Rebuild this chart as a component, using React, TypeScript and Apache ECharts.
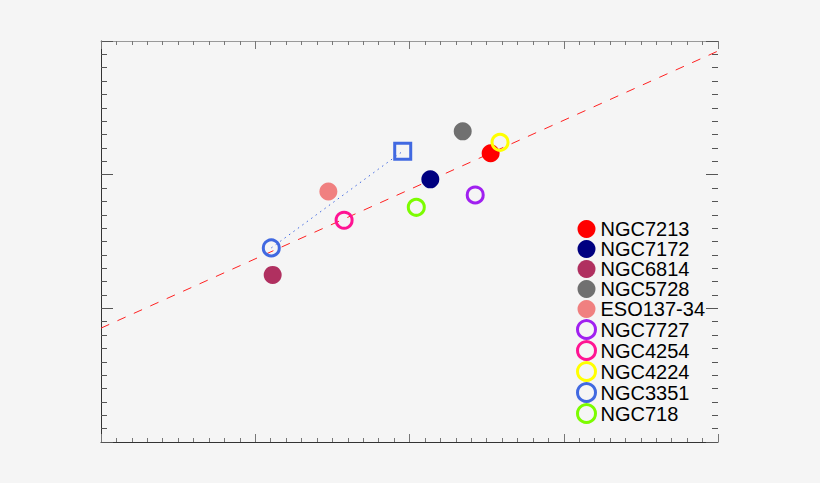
import { useEffect, useRef } from 'react';
import * as echarts from 'echarts';

// galaxies, in legend order
const names = [
  'NGC7213', 'NGC7172', 'NGC6814', 'NGC5728', 'ESO137-34',
  'NGC7727', 'NGC4254', 'NGC4224', 'NGC3351', 'NGC718',
];
const xValues = [2.526, 2.135, 1.113, 2.345, 1.474, 2.426, 1.576, 2.587, 1.104, 2.044];
const yValues = [2.16, 1.965, 1.25, 2.324, 1.874, 1.848, 1.659, 2.242, 1.452, 1.756];
const colors = [
  '#ff0000', '#000080', '#b03060', '#707070', '#f08080',
  '#a020f0', '#ff1493', '#ffff00', '#4169e1', '#7cfc00',
];
const filled = [true, true, true, true, true, false, false, false, false, false];

// dashed relation
const fitX = [0, 4];
const fitY = [0.852, 2.925];

// NGC3351 linked to its open square
const linkX = [1.104, 1.956];
const linkY = [1.452, 2.175];

const xTicks = { min: 0, max: 4, interval: 1 };
const yTicks = { min: 0, max: 3, interval: 1 };

function xAxis(position: 'top' | 'bottom', lineColor: string) {
  return {
    type: 'value' as const,
    position,
    ...xTicks,
    axisLine: { show: true, onZero: false, lineStyle: { color: lineColor, width: 1 } },
    axisTick: { show: true, inside: true, length: 8, lineStyle: { color: '#777' } },
    minorTick: { show: true, splitNumber: 10, length: 4, lineStyle: { color: '#777' } },
    axisLabel: { show: false },
    splitLine: { show: false },
  };
}

function yAxis(position: 'left' | 'right', showLine: boolean) {
  return {
    type: 'value' as const,
    position,
    ...yTicks,
    axisLine: { show: showLine, onZero: false, lineStyle: { color: '#333', width: 1 } },
    axisTick: { show: true, inside: true, length: 12, lineStyle: { color: '#555' } },
    minorTick: { show: true, splitNumber: 10, length: 6, lineStyle: { color: '#555' } },
    axisLabel: { show: false },
    splitLine: { show: false },
  };
}

export default function App() {
  const chartRef = useRef<HTMLDivElement | null>(null);

  useEffect(() => {
    const element = chartRef.current;
    if (!element) {
      return;
    }

    const chart = echarts.init(element, null, { renderer: 'svg' });

    const galaxySeries = names.map((name, i) => ({
      name,
      type: 'scatter' as const,
      data: [[xValues[i], yValues[i]]],
      symbol: 'circle',
      symbolSize: filled[i] ? 18 : 16,
      itemStyle: filled[i]
        ? { color: colors[i], opacity: 1 }
        : { color: 'rgba(0,0,0,0)', borderColor: colors[i], borderWidth: 3, opacity: 1 },
      z: 5,
    }));

    chart.setOption({
      animation: false,
      backgroundColor: '#f5f5f5',
      textStyle: { fontFamily: 'Liberation Sans' },
      grid: { left: 101, right: 102, top: 41, bottom: 41 },
      xAxis: [xAxis('bottom', '#333'), xAxis('top', '#999')],
      yAxis: [yAxis('left', true), yAxis('right', false)],
      legend: {
        data: names.map((name, i) =>
          filled[i]
            ? { name }
            : { name, itemStyle: { color: 'rgba(0,0,0,0)', borderColor: colors[i], borderWidth: 3 } },
        ),
        orient: 'vertical',
        left: 576,
        top: 219,
        padding: 0,
        itemGap: 0,
        itemWidth: 18,
        itemHeight: 18,
        icon: 'circle',
        textStyle: { fontSize: 20, lineHeight: 20, color: '#000', fontFamily: 'Liberation Sans' },
        selectedMode: false,
      },
      series: [
        {
          name: 'fit',
          type: 'line',
          data: fitX.map((x, i) => [x, fitY[i]]),
          symbol: 'none',
          lineStyle: { color: '#ff2020', width: 1, type: [9, 9] },
          z: 1,
        },
        {
          name: 'link',
          type: 'line',
          data: linkX.map((x, i) => [x, linkY[i]]),
          symbol: 'none',
          lineStyle: { color: '#4169e1', width: 1, type: [1.5, 4] },
          z: 1,
        },
        {
          name: 'NGC3351 square',
          type: 'scatter',
          data: [[linkX[1], linkY[1]]],
          symbol: 'rect',
          symbolSize: 16,
          itemStyle: { color: 'rgba(0,0,0,0)', borderColor: '#4169e1', borderWidth: 3, opacity: 1 },
          z: 5,
        },
        ...galaxySeries,
      ],
    });

    return () => {
      chart.dispose();
    };
  }, []);

  return (
    <div
      ref={chartRef}
      style={{ position: 'fixed', left: 0, top: 0, width: 820, height: 483, background: '#f5f5f5' }}
    />
  );
}
